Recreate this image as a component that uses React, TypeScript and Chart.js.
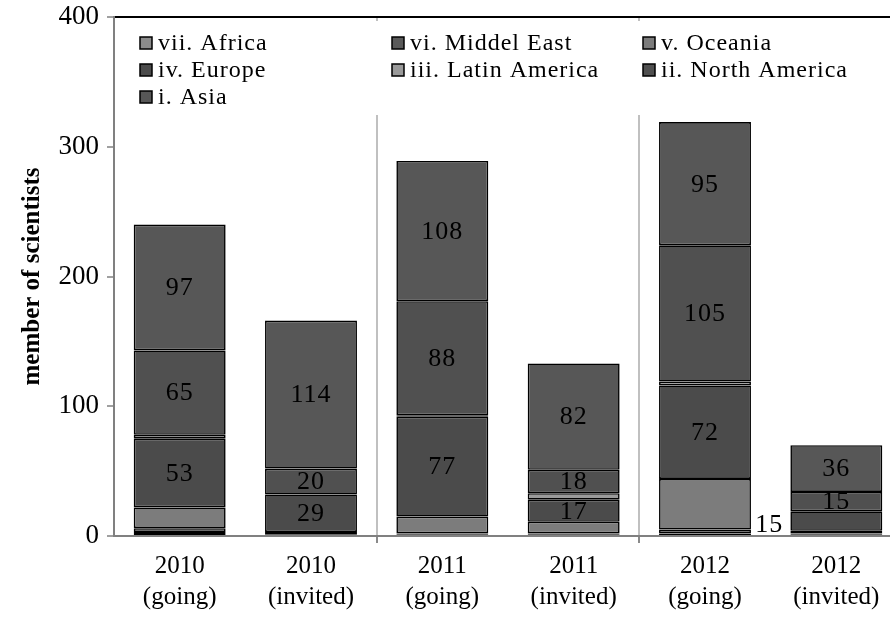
import { useEffect, useRef } from "react";
import { Chart, registerables } from "chart.js";

Chart.register(...registerables);

// Categories (two-line tick labels)
const categories: string[][] = [
  ["2010", "(going)"],
  ["2010", "(invited)"],
  ["2011", "(going)"],
  ["2011", "(invited)"],
  ["2012", "(going)"],
  ["2012", "(invited)"],
];

// Stacked series, bottom to top
const seriesNames = [
  "vii. Africa",
  "vi. Middel East",
  "v. Oceania",
  "iv. Europe",
  "iii. Latin America",
  "ii. North America",
  "i. Asia",
];
const africa = [3, 1, 1, 1, 2, 1];
const middleEast = [3, 0, 1, 1, 3, 1];
const oceania = [16, 2, 13, 9, 39, 2];
const europe = [53, 29, 77, 17, 72, 15];
const latinAmerica = [3, 0, 1, 5, 3, 0];
const northAmerica = [65, 20, 88, 18, 105, 15];
const asia = [97, 114, 108, 82, 95, 36];

const seriesColors = ["#8c8c8c", "#5a5a5a", "#7c7c7c", "#4b4b4b", "#9a9a9a", "#505050", "#575757"];

// Series whose segments carry a value label
const labelledSeries = ["iv. Europe", "ii. North America", "i. Asia"];

const yTicks = [0, 100, 200, 300, 400];

const FONT = "'Liberation Serif', 'Times New Roman', serif";

// Value labels centred in the segments
const valueLabelPlugin = {
  id: "valueLabels",
  afterDatasetsDraw(chart: any) {
    const ctx = chart.ctx;
    ctx.save();
    ctx.font = `26px ${FONT}`;
    (ctx as any).letterSpacing = "1px";
    ctx.fillStyle = "#000";
    ctx.textAlign = "center";
    ctx.textBaseline = "middle";
    chart.data.datasets.forEach((ds: any, di: number) => {
      if (!labelledSeries.includes(ds.label)) return;
      const meta = chart.getDatasetMeta(di);
      meta.data.forEach((el: any, i: number) => {
        const v = ds.data[i];
        if (!v) return;
        let x = el.x;
        let y = (el.y + el.base) / 2;
        // the last Europe label sits beside its narrow segment
        if (ds.label === "iv. Europe" && i === categories.length - 1) {
          x -= 67;
          y += 3;
        }
        ctx.fillText(String(v), x, y + 1);
      });
    });
    ctx.restore();
  },
};

// Legend drawn inside the plot area, three columns
const innerLegendPlugin = {
  id: "innerLegend",
  afterDatasetsDraw(chart: any) {
    const ctx = chart.ctx;
    const area = chart.chartArea;
    const left = area.left;
    const top = area.top;
    ctx.save();
    ctx.fillStyle = "#fff";
    ctx.fillRect(left + 12, top + 4, 760, 94);
    const colX = [left + 26, left + 278, left + 529];
    const rowY = [top + 26, top + 53, top + 80];
    ctx.font = `24px ${FONT}`;
    (ctx as any).letterSpacing = "1px";
    ctx.textBaseline = "middle";
    ctx.textAlign = "left";
    chart.data.datasets.forEach((ds: any, i: number) => {
      const col = i % 3;
      const row = Math.floor(i / 3);
      const bx = colX[col];
      const by = rowY[row];
      ctx.fillStyle = ds.backgroundColor;
      ctx.fillRect(bx, by - 6, 12, 12);
      ctx.strokeStyle = "#000";
      ctx.lineWidth = 1.5;
      ctx.strokeRect(bx, by - 6, 12, 12);
      ctx.fillStyle = "#000";
      ctx.fillText(ds.label, bx + 18, by + 1);
    });
    ctx.restore();
  },
};

export default function App() {
  const canvasRef = useRef<HTMLCanvasElement | null>(null);

  useEffect(() => {
    if (!canvasRef.current) return;
    const values = [africa, middleEast, oceania, europe, latinAmerica, northAmerica, asia];
    const chart = new Chart(canvasRef.current, {
      type: "bar",
      data: {
        labels: categories,
        datasets: seriesNames.map((name, i) => ({
          label: name,
          data: values[i],
          backgroundColor: seriesColors[i],
          borderColor: "#000",
          borderWidth: 1.6,
          borderSkipped: false,
          categoryPercentage: 1,
          barPercentage: 0.7,
        })),
      },
      options: {
        animation: false,
        responsive: false,
        maintainAspectRatio: false,
        layout: { padding: { top: 17, right: 8, left: 0, bottom: 0 } },
        plugins: { legend: { display: false }, tooltip: { enabled: false } },
        scales: {
          x: {
            stacked: true,
            offset: true,
            grid: {
              offset: true,
              color: (c: any) => (c.index === 2 || c.index === 4 ? "#c0c0c0" : "transparent"),
              lineWidth: 2,
              drawTicks: true,
              tickLength: 7,
              tickColor: (c: any) => (c.index === 2 || c.index === 4 ? "#8a8a8a" : "transparent"),
            },
            border: { color: "#808080", width: 2 },
            ticks: {
              color: "#000",
              font: { family: FONT, size: 25, lineHeight: 1.25 },
              padding: 8,
              maxRotation: 0,
              autoSkip: false,
            },
            afterFit: (s: any) => {
              s.height = 85;
              s.paddingLeft = 0;
              s.paddingRight = 0;
            },
          },
          y: {
            stacked: true,
            min: yTicks[0],
            max: yTicks[yTicks.length - 1],
            afterBuildTicks: (s: any) => {
              s.ticks = yTicks.map((v) => ({ value: v }));
            },
            grid: {
              color: (c: any) => (c.tick && c.tick.value === 400 ? "#000" : "transparent"),
              lineWidth: 2,
              drawTicks: true,
              tickLength: 7,
              tickColor: "#808080",
              tickWidth: 1.5,
            },
            border: { color: "#808080", width: 2 },
            ticks: {
              color: "#000",
              font: { family: FONT, size: 27 },
              padding: 8,
            },
            title: {
              display: true,
              text: "member of scientists",
              color: "#000",
              font: { family: FONT, size: 25, weight: "bold" },
              padding: { top: 18, bottom: 0 },
            },
            afterFit: (s: any) => {
              s.width = 114;
              s.paddingTop = 0;
              s.paddingBottom = 0;
            },
          },
        },
      },
      plugins: [valueLabelPlugin, innerLegendPlugin],
    });
    return () => chart.destroy();
  }, []);

  return (
    <div
      style={{
        position: "fixed",
        left: 0,
        top: 0,
        width: 890,
        height: 621,
        overflow: "hidden",
        background: "#fff",
      }}
    >
      <canvas ref={canvasRef} width={910} height={621} style={{ display: "block" }} />
    </div>
  );
}
